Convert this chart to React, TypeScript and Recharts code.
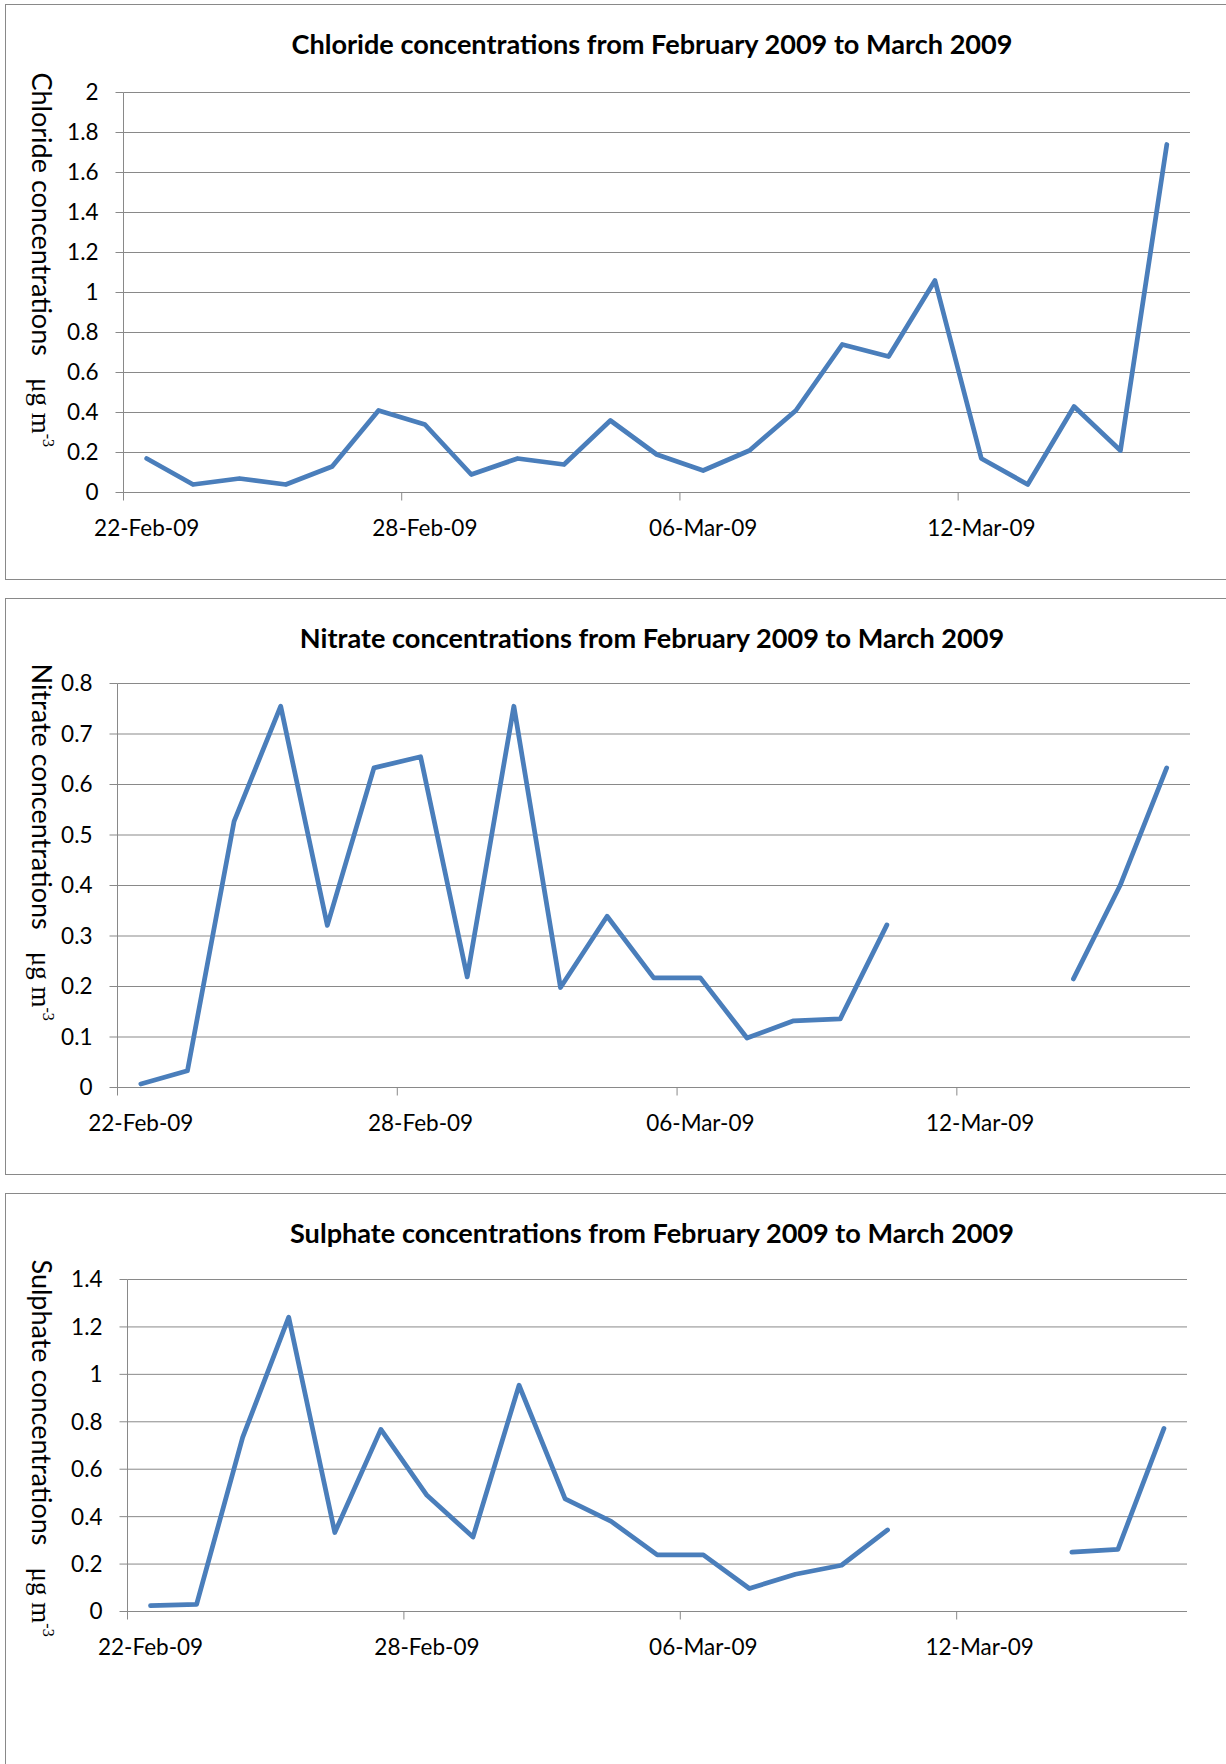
import { LineChart, Line, XAxis, YAxis, CartesianGrid } from 'recharts';

const dates = [
  '22-Feb-09', '23-Feb-09', '24-Feb-09', '25-Feb-09', '26-Feb-09', '27-Feb-09', '28-Feb-09',
  '01-Mar-09', '02-Mar-09', '03-Mar-09', '04-Mar-09', '05-Mar-09', '06-Mar-09', '07-Mar-09',
  '08-Mar-09', '09-Mar-09', '10-Mar-09', '11-Mar-09', '12-Mar-09', '13-Mar-09', '14-Mar-09',
  '15-Mar-09', '16-Mar-09',
];

// daily concentrations in µg m-3, null where there is no sample
const chloride = [
  0.17, 0.04, 0.07, 0.04, 0.13, 0.41, 0.34, 0.09, 0.17, 0.14, 0.36, 0.19,
  0.11, 0.21, 0.41, 0.74, 0.68, 1.06, 0.17, 0.04, 0.43, 0.21, 1.74,
];
const nitrate = [
  0.007, 0.033, 0.527, 0.755, 0.321, 0.633, 0.655, 0.219, 0.755, 0.198, 0.339, 0.217,
  0.217, 0.098, 0.132, 0.136, 0.322, null, null, null, 0.215, 0.4, 0.633,
];
const sulphate = [
  0.025, 0.03, 0.734, 1.241, 0.333, 0.768, 0.49, 0.314, 0.954, 0.475, 0.38, 0.239,
  0.239, 0.097, 0.157, 0.195, 0.344, null, null, null, 0.25, 0.262, 0.772,
];

const labelledDates = ['22-Feb-09', '28-Feb-09', '06-Mar-09', '12-Mar-09'];

const chlorideTicks = [0, 0.2, 0.4, 0.6, 0.8, 1, 1.2, 1.4, 1.6, 1.8, 2];
const nitrateTicks = [0, 0.1, 0.2, 0.3, 0.4, 0.5, 0.6, 0.7, 0.8];
const sulphateTicks = [0, 0.2, 0.4, 0.6, 0.8, 1, 1.2, 1.4];

const rows = dates.map((date, day) => ({
  date,
  day,
  chloride: chloride[day],
  nitrate: nitrate[day],
  sulphate: sulphate[day],
}));

// every labelled date opens a six-day block: tick marks on the block edge, label on the day centre
const labelDays = labelledDates.map((d) => dates.indexOf(d));
const xTicks = labelDays.flatMap((d) => [d - 0.5, d]);

const GRID = '#898989';
const BLUE = '#4A7EBB';
const SANS = 'Lato, "Open Sans", sans-serif';
const SERIF = '"Liberation Serif", "DejaVu Serif", serif';
const PAGE_W = 1226;
const TICK_FONT = 22.5;

const charts = [
  {
    title: 'Chloride concentrations from February 2009 to March 2009',
    caption: 'Chloride concentrations',
    dataKey: 'chloride',
    ticks: chlorideTicks,
    top: 4, height: 576, plotTop: 92.5, plotBottom: 492.5, plotLeft: 123.5, plotRight: 1190,
  },
  {
    title: 'Nitrate concentrations from February 2009 to March 2009',
    caption: 'Nitrate concentrations',
    dataKey: 'nitrate',
    ticks: nitrateTicks,
    top: 598, height: 577, plotTop: 683.5, plotBottom: 1087.5, plotLeft: 117.5, plotRight: 1190,
  },
  {
    title: 'Sulphate concentrations from February 2009 to March 2009',
    caption: 'Sulphate concentrations',
    dataKey: 'sulphate',
    ticks: sulphateTicks,
    top: 1193, height: 600, plotTop: 1279.5, plotBottom: 1611.5, plotLeft: 127.5, plotRight: 1187,
  },
];

function DateTick(props: any) {
  const { x, y, payload } = props;
  const day = payload.value;
  if (!Number.isInteger(day)) {
    return <line x1={x} x2={x} y1={y} y2={y + 8} stroke={GRID} />;
  }
  return (
    <text x={x} y={y + 43} textAnchor="middle" fontFamily={SANS} fontSize={TICK_FONT} fill="#000">
      {dates[day]}
    </text>
  );
}

function AxisTitle(props: any) {
  const { viewBox, caption } = props;
  const x = viewBox.x + 32;
  const y = viewBox.y - 20;
  return (
    <text transform={`translate(${x},${y}) rotate(90)`} fontFamily={SANS} fontSize={27} fill="#000">
      {caption}
      <tspan dx={22} fontFamily={SERIF} fontSize={27}>μg m</tspan>
      <tspan dy={-11} fontFamily={SERIF} fontSize={16}>-3</tspan>
    </text>
  );
}

function ConcentrationChart({ spec }: { spec: (typeof charts)[number] }) {
  const { title, caption, dataKey, ticks, top, height, plotTop, plotBottom, plotLeft, plotRight } = spec;
  const axisHeight = 45;
  return (
    <>
      <div
        style={{
          position: 'absolute', left: 5, top, width: 1294, height,
          border: `1px solid ${GRID}`, boxSizing: 'border-box', background: '#fff',
        }}
      />
      <div
        style={{
          position: 'absolute', left: 5, top: top + 26, width: 1294, textAlign: 'center',
          font: `bold 27.1px ${SANS}`, lineHeight: 1, color: '#000',
        }}
      >
        {title}
      </div>
      <div style={{ position: 'absolute', left: 0, top }}>
        <LineChart
          width={PAGE_W}
          height={height}
          data={rows}
          margin={{
            top: plotTop - top,
            right: PAGE_W - plotRight,
            bottom: height - (plotBottom - top) - axisHeight,
            left: 0,
          }}
        >
          <CartesianGrid vertical={false} stroke={GRID} />
          <XAxis
            dataKey="day"
            type="number"
            domain={[-0.5, dates.length - 0.5]}
            ticks={xTicks}
            interval={0}
            tickLine={false}
            tickSize={0}
            tickMargin={0}
            height={axisHeight}
            stroke={GRID}
            tick={<DateTick />}
          />
          <YAxis
            type="number"
            domain={[ticks[0], ticks[ticks.length - 1]]}
            ticks={ticks}
            interval={0}
            width={plotLeft}
            tickSize={8}
            tickMargin={17}
            stroke={GRID}
            tick={{ fill: '#000', fontSize: TICK_FONT, fontFamily: SANS }}
            label={<AxisTitle caption={caption} />}
          />
          <Line
            type="linear"
            dataKey={dataKey}
            stroke={BLUE}
            strokeWidth={4.75}
            strokeLinecap="round"
            strokeLinejoin="round"
            dot={false}
            activeDot={false}
            isAnimationActive={false}
          />
        </LineChart>
      </div>
    </>
  );
}

export default function App() {
  return (
    <div
      style={{
        position: 'absolute', left: 0, top: 0, width: PAGE_W, height: 1764,
        overflow: 'hidden', background: '#fff',
      }}
    >
      {charts.map((spec) => (
        <ConcentrationChart key={spec.dataKey} spec={spec} />
      ))}
    </div>
  );
}
